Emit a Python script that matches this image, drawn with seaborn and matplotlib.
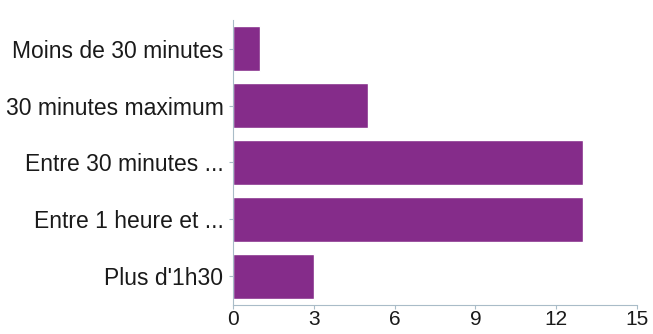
import matplotlib
matplotlib.use("Agg")
import matplotlib.pyplot as plt
import seaborn as sns
import pandas as pd

categories = ["Moins de 30 minutes", "30 minutes maximum", "Entre 30 minutes ...",
              "Entre 1 heure et ...", "Plus d'1h30"]
values = [1, 5, 13, 13, 3]
xticks = [0, 3, 6, 9, 12, 15]

sns.set_style("white")
plt.rcParams['font.family'] = ['Liberation Sans', 'DejaVu Sans']

df = pd.DataFrame({"cat": categories, "val": values})

fig = plt.figure(figsize=(6.53, 3.34), dpi=100)
ax = fig.add_axes([0.357, 0.087, 0.6185, 0.853])
sns.barplot(data=df, y="cat", x="val", orient="h", color="#852c8a",
            saturation=1, width=0.79, ax=ax)
ax.set_xlim(0, 15)
ax.set_ylim(4.5, -0.5)
ax.set_xticks(xticks)
ax.set_xticklabels([str(t) for t in xticks])
ax.set_xlabel("")
ax.set_ylabel("")
for s in ["top", "right"]:
    ax.spines[s].set_visible(False)
for s in ["left", "bottom"]:
    ax.spines[s].set_color("#a9bcc8")
    ax.spines[s].set_linewidth(0.8)
ax.tick_params(axis="both", which="both", length=3, color="#a9bcc8",
               labelcolor="#1a1a1a")
ax.tick_params(axis="x", bottom=True, pad=1, labelsize=15)
ax.tick_params(axis="y", left=True, pad=4, labelsize=16.5)
fig.savefig("out.png", dpi=100)
